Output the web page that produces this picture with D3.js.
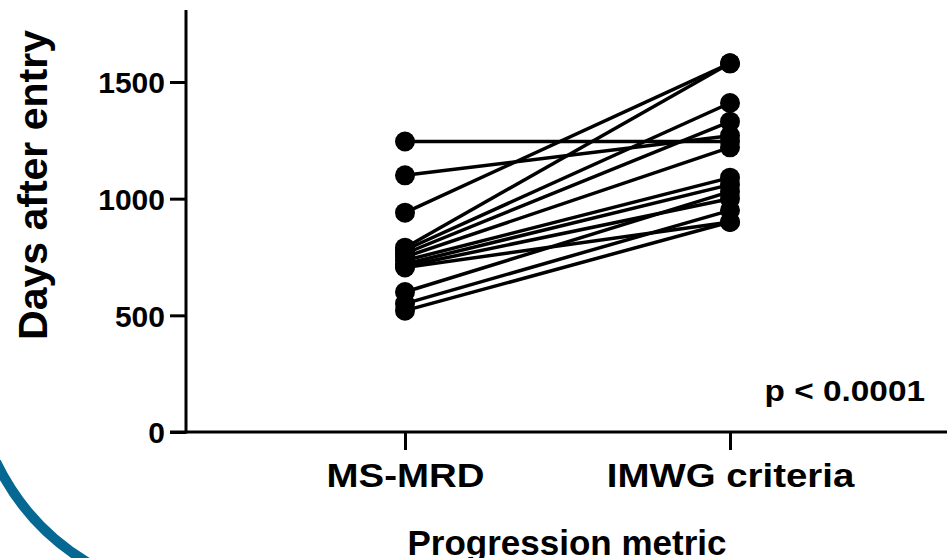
<!DOCTYPE html>
<html><head><meta charset="utf-8">
<script src="https://cdn.jsdelivr.net/npm/d3@7"></script>
<style>body{margin:0;background:#fff}svg{display:block}text{font-family:"Liberation Sans",Arial,sans-serif;font-weight:bold}</style>
</head><body>
<svg id="c" width="947" height="558"></svg>
<script>
const categories = ["MS-MRD", "IMWG criteria"];
const msmrd = [1245, 1100, 940, 790, 780, 765, 750, 735, 720, 710, 705, 600, 550, 520];
const imwg  = [1245, 1270, 1580, 1580, 1410, 1330, 1220, 1090, 1060, 1000, 900, 1030, 950, 900];
const yTicks = [0, 500, 1000, 1500];
const yMax = 1800;
const pText = "p < 0.0001";
const yTitle = "Days after entry";
const xTitle = "Progression metric";

const svg = d3.select("#c");
const y = d3.scaleLinear().domain([0, yMax]).range([432, 12]);
const x = d3.scalePoint().domain(categories).range([405, 730]);
const axX = 186;

// decorative arc
svg.append("path").attr("d","M -4,462 Q 28,528 90,564").attr("fill","none")
  .attr("stroke","#056893").attr("stroke-width",10);

// y axis
const ya = svg.append("g").attr("transform",`translate(${axX},0)`)
  .call(d3.axisLeft(y).tickValues(yTicks).tickSize(16).tickPadding(5).tickFormat(d3.format("d")));
ya.select(".domain").remove();
ya.selectAll(".tick line").attr("stroke","#000").attr("stroke-width",3);
ya.selectAll(".tick text").attr("font-size",30).attr("fill","#000").attr("dy","0.36em");
svg.append("line").attr("x1",axX).attr("x2",axX).attr("y1",y(yMax)-2).attr("y2",y(0)+1.5)
  .attr("stroke","#000").attr("stroke-width",3);

// x axis
const xa = svg.append("g").attr("transform",`translate(0,${y(0)})`)
  .call(d3.axisBottom(x).tickSize(18).tickPadding(0));
xa.select(".domain").remove();
xa.selectAll(".tick line").attr("stroke","#000").attr("stroke-width",3);
xa.selectAll(".tick text").attr("font-size",34).attr("fill","#000").attr("y",0).attr("dy",0)
  .attr("transform","translate(0,55) scale(1.13,1)");
svg.append("line").attr("x1",170).attr("x2",950).attr("y1",y(0)).attr("y2",y(0))
  .attr("stroke","#000").attr("stroke-width",3);

// pairs
const pairs = msmrd.map((v,i)=>[v, imwg[i]]);
svg.append("g").selectAll("line").data(pairs).join("line")
  .attr("x1",x(categories[0])).attr("x2",x(categories[1]))
  .attr("y1",d=>y(d[0])).attr("y2",d=>y(d[1]))
  .attr("stroke","#000").attr("stroke-width",3.5);
const pts = [];
pairs.forEach(d=>{pts.push([categories[0],d[0]]);pts.push([categories[1],d[1]]);});
svg.append("g").selectAll("circle").data(pts).join("circle")
  .attr("cx",d=>x(d[0])).attr("cy",d=>y(d[1])).attr("r",10).attr("fill","#000");

// texts
svg.append("text").attr("transform","translate(925,401) scale(1.15,1)").attr("text-anchor","end")
  .attr("font-size",29).text(pText);
svg.append("text").attr("transform","translate(47,185) rotate(-90)").attr("text-anchor","middle")
  .attr("font-size",41).text(yTitle);
svg.append("text").attr("x",567).attr("y",555).attr("text-anchor","middle").attr("font-size",35).text(xTitle);
</script>
</body></html>
